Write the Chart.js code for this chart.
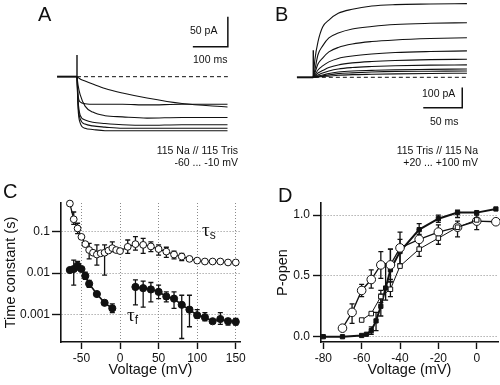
<!DOCTYPE html>
<html><head><meta charset="utf-8">
<script src="https://cdn.jsdelivr.net/npm/chart.js@4.4.1/dist/chart.umd.min.js"></script>
<style>
body{margin:0;background:#fff;}
#wrap{position:relative;width:500px;height:385px;overflow:hidden;background:#fff;font-family:"Liberation Sans",Arial,sans-serif;color:#111;}
canvas{position:absolute;}
.t{position:absolute;white-space:nowrap;line-height:1;}
.lab{position:absolute;font-size:20px;line-height:1;font-family:"Liberation Sans",Arial,sans-serif;}
.tau{position:absolute;font-family:"Liberation Serif","DejaVu Serif",serif;font-size:19px;line-height:1;}
.tau sub{font-family:"Liberation Sans",Arial,sans-serif;font-size:12px;vertical-align:-3px;}
</style></head>
<body><div id="wrap">
<canvas id="cA" width="200" height="150" style="left:40px;top:0px"></canvas>
<canvas id="cB" width="230" height="150" style="left:270px;top:0px"></canvas>
<canvas id="cC" width="250" height="210" style="left:0px;top:175px"></canvas>
<canvas id="cD" width="250" height="210" style="left:250px;top:175px"></canvas>

<div class="lab" style="left:38px;top:4px">A</div>
<div class="lab" style="left:275px;top:4px">B</div>
<div class="lab" style="left:3px;top:181px">C</div>
<div class="lab" style="left:278px;top:185px">D</div>

<div class="t" style="left:190px;top:25px;font-size:10.5px">50 pA</div>
<div class="t" style="left:193px;top:54px;font-size:10.5px">100 ms</div>
<div class="t" style="right:262px;top:145px;font-size:10.5px;text-align:right">115 Na // 115 Tris</div>
<div class="t" style="right:262px;top:157px;font-size:10.5px;text-align:right">-60 ... -10 mV</div>

<div class="t" style="left:422px;top:88px;font-size:10.5px">100 pA</div>
<div class="t" style="left:430px;top:116px;font-size:10.5px">50 ms</div>
<div class="t" style="right:22px;top:145px;font-size:10.5px;text-align:right">115 Tris // 115 Na</div>
<div class="t" style="right:22px;top:157px;font-size:10.5px;text-align:right">+20 ... +100 mV</div>

<div class="tau" style="left:202px;top:220px">τ<sub>s</sub></div>
<div class="tau" style="left:127px;top:305px">τ<sub>f</sub></div>
</div>
<script>
// ---------- Panel A : 115 Na // 115 Tris, -60 ... -10 mV (time ms, current pA)
const aTime   = [0, 3, 9, 23, 45, 80, 130, 200, 300, 430];
const aTrace1 = [0, -1.3, -3.8, -7.2, -12.2, -19.7, -27.2, -35.5, -44.7, -50.5];
const aTrace2 = [0, -30, -42, -45, -46, -46, -46, -47, -46, -46];
const aTrace3 = [0, -14, -30, -49, -59, -65, -67, -69, -68, -68];
const aTrace4 = [0, -39, -64, -72, -76, -78, -80, -81, -80, -80];
const aTrace5 = [0, -45, -70, -79, -82, -84, -86, -86, -86, -86];
const aTrace6 = [0, -52, -77, -86, -88, -90, -90, -90, -90, -90];
const aHoldTime = [-57, 0];
const aSpikeCurrent = [0, 36];
const aBaseTime = [0, 431];
const aBarTime = [431, 431, 331];
const aBarCurrent = [100, 50, 50];

// ---------- Panel B : 115 Tris // 115 Na, +20 ... +100 mV
const bTime   = [0, 2, 6, 12, 20, 32, 50, 75, 105, 150, 197];
const bTrace1 = [0, 85, 175, 248, 282, 315, 335, 351, 358, 361, 363];
const bTrace2 = [0, 36, 111, 155, 194, 218, 238, 250, 260, 266, 269];
const bTrace3 = [0, 21, 66, 95, 125, 147, 164, 176, 184, 191, 195];
const bTrace4 = [0, 11, 36, 56, 76, 93, 105, 115, 122, 127, 130];
const bTrace5 = [0, 6, 21, 33, 48, 61, 71, 78, 83, 87, 89];
const bTrace6 = [0, 4, 11, 21, 31, 41, 48, 53, 57, 60, 61];
const bTrace7 = [0, 1.5, 6, 11, 19, 26, 31, 34, 37, 39, 41];
const bTrace8 = [0, 1.5, 4, 7, 12, 18, 22, 26, 29, 30, 31];
const bTrace9 = [0, 0.5, 1.5, 4, 6, 10, 13, 15, 17, 19, 20];
const bHoldTime = [-21, 0];
const bSpikeCurrent = [0, 133];
const bBaseTime = [2, 197];
const bBarTime = [191, 191, 141];
const bBarCurrent = [-50, -150, -150];

// ---------- Panel C : time constants (s) vs voltage (mV)
const cSlowV   = [-65,-60,-55,-50,-45,-40,-35,-30,-25,-20,-15,-10,-5,0,10,20,30,40,50,60,70,80,90,100,110,120,130,140,150];
const cSlowTau = [0.48,0.2,0.12,0.075,0.05,0.036,0.031,0.028,0.03,0.031,0.035,0.04,0.036,0.034,0.043,0.05,0.048,0.044,0.038,0.033,0.028,0.025,0.022,0.02,0.019,0.019,0.019,0.018,0.018];
const cSlowLo  = [null,0.15,0.09,null,null,0.022,null,0.0155,null,0.0089,null,0.033,null,null,0.03,0.036,0.03,0.033,0.027,0.024,0.022,0.02,null,null,null,null,null,null,null];
const cSlowHi  = [null,0.3,0.16,null,null,0.052,null,0.048,null,0.048,null,0.057,null,null,0.063,0.076,0.069,0.057,0.048,0.042,0.034,0.03,null,null,null,null,null,null,null];
const cFastV1   = [-65,-60,-55,-50,-45,-40,-30,-20,-10];
const cFastTau1 = [0.0118,0.0125,0.015,0.0125,0.0085,0.0055,0.0031,0.0019,0.0014];
const cFastLo1  = [null,0.0051,0.0118,null,0.007,0.0045,null,null,0.0011];
const cFastHi1  = [null,0.0205,0.019,null,0.0105,0.0066,null,null,0.0018];
const cFastV2   = [20,30,40,50,60,70,80,90,100,110,120,130,140,150];
const cFastTau2 = [0.0046,0.0043,0.004,0.0035,0.0027,0.0024,0.0017,0.0013,0.00095,0.00085,0.00068,0.00077,0.00068,0.00066];
const cFastLo2  = [0.0017,0.0015,0.002,0.0024,0.002,0.0014,0.00026,0.0005,0.0008,0.0007,null,0.00057,0.00055,0.00055];
const cFastHi2  = [0.0068,0.0064,0.0059,0.0051,0.0035,0.0035,0.0029,0.0029,0.0013,0.0011,null,0.0011,0.0008,0.0008];
const cXTicks = [-50, 0, 50, 100, 150];
const cYTicks = [0.001, 0.01, 0.1];

// ---------- Panel D : P-open vs voltage (mV)
const dSqV  = [-80,-70,-60,-57.5,-55,-52.5,-50,-47.5,-45,-40,-30,-20,-10,0,10];
const dSqP  = [0,0,0.01,0.02,0.05,0.13,0.25,0.4,0.55,0.7,0.88,0.97,1.02,1.02,1.05];
const dSqLo = [null,null,null,null,0.02,0.05,0.17,0.3,0.45,0.6,0.84,0.94,0.98,null,null];
const dSqHi = [null,null,null,null,0.08,0.2,0.35,0.6,0.72,0.8,0.93,1.0,1.04,null,null];
const dCircV  = [-70,-65,-60,-55,-50,-45,-40,-30,-20,-10,0,10];
const dCircP  = [0.07,0.2,0.38,0.47,0.59,0.59,0.73,0.8,0.86,0.9,0.95,0.945];
const dCircLo = [null,0.11,0.33,0.4,0.48,0.47,0.58,0.72,0.8,0.82,0.88,null];
const dCircHi = [null,0.27,0.43,0.55,0.7,0.72,0.86,0.88,0.92,0.95,1.0,null];
const dOpenV  = [-60,-55,-50,-45,-40,-30,-20,-10,0];
const dOpenP  = [0.137,0.19,0.33,0.39,0.58,0.72,0.81,0.9,0.96];
const dOpenLo = [null,null,0.28,0.33,null,0.66,0.76,null,null];
const dOpenHi = [null,null,0.38,0.45,null,0.78,0.86,null,null];
const dXTicks = [-80, -60, -40, -20, 0];
const dYTicks = [0, 0.5, 1.0];

// ---------- helpers
const pts = (xs, ys) => xs.map((x, i) => ({x: x, y: ys[i]}));
const INK = '#111';

const errorBars = {
  id: 'errorBars',
  beforeDatasetsDraw(chart) {
    const ctx = chart.ctx;
    chart.data.datasets.forEach((ds, i) => {
      if (!ds.errLo) return;
      const meta = chart.getDatasetMeta(i);
      const xs = chart.scales[meta.xAxisID], ys = chart.scales[meta.yAxisID];
      ctx.save();
      ctx.strokeStyle = INK; ctx.lineWidth = ds.errWidth || 1.3;
      ds.data.forEach((p, j) => {
        const lo = ds.errLo[j], hi = ds.errHi[j];
        if (lo == null || hi == null) return;
        const x = xs.getPixelForValue(p.x);
        const y1 = ys.getPixelForValue(lo), y2 = ys.getPixelForValue(hi);
        const c = ds.capHalf || 2.5;
        ctx.beginPath();
        ctx.moveTo(x, y1); ctx.lineTo(x, y2);
        ctx.moveTo(x - c, y1); ctx.lineTo(x + c, y1);
        ctx.moveTo(x - c, y2); ctx.lineTo(x + c, y2);
        ctx.stroke();
      });
      ctx.restore();
    });
  }
};

function traceChart(id, xmin, xmax, ymin, ymax, datasets) {
  return new Chart(document.getElementById(id), {
    type: 'line',
    data: {datasets: datasets},
    options: {
      responsive: false, animation: false, devicePixelRatio: 1,
      layout: {padding: 0, autoPadding: false},
      plugins: {legend: {display: false}, tooltip: {enabled: false}},
      scales: {
        x: {type: 'linear', display: false, min: xmin, max: xmax},
        y: {type: 'linear', display: false, min: ymin, max: ymax}
      },
      elements: {point: {radius: 0}, line: {borderColor: INK, borderWidth: 1.1}}
    }
  });
}
const trace = (xs, ys) => ({data: pts(xs, ys), borderColor: INK, borderWidth: 1.1, pointRadius: 0, cubicInterpolationMode: 'monotone', clip: false});
const seg = (xs, ys, w, dash) => ({data: pts(xs, ys), borderColor: INK, borderWidth: w, pointRadius: 0, tension: 0, borderDash: dash || [], clip: false});

// Panel A
traceChart('cA', -105.7, 465.7, -122.2, 127.8, [
  seg(aBaseTime, [0, 0], 1, [4, 3]),
  seg(aHoldTime, [0, 0], 2),
  seg([0, 0], aSpikeCurrent, 1.4),
  trace(aTime, aTrace1), trace(aTime, aTrace2), trace(aTime, aTrace3),
  trace(aTime, aTrace4), trace(aTime, aTrace5), trace(aTime, aTrace6),
  seg(aBarTime, aBarCurrent, 1.5)
]);

// Panel B
traceChart('cB', -55.5, 239.4, -358.1, 380.8, [
  seg(bBaseTime, [0, 0], 1, [4, 3]),
  seg(bHoldTime, [0, 0], 2),
  seg([0, 0], bSpikeCurrent, 1.4),
  trace(bTime, bTrace1), trace(bTime, bTrace2), trace(bTime, bTrace3),
  trace(bTime, bTrace4), trace(bTime, bTrace5), trace(bTime, bTrace6),
  trace(bTime, bTrace7), trace(bTime, bTrace8), trace(bTime, bTrace9),
  seg(bBarTime, bBarCurrent, 1.5)
]);

const tickFont = {family: '"Liberation Sans", Arial, sans-serif', size: 12};
const titleFont = {family: '"Liberation Sans", Arial, sans-serif', size: 14.5};

function axisCommon(extra) {
  return Object.assign({
    border: {display: true, color: INK, width: 1.6, dash: [1, 2]},
    ticks: {color: INK, font: tickFont, autoSkip: false, maxRotation: 0},
  }, extra);
}

// Panel C
new Chart(document.getElementById('cC'), {
  type: 'line',
  data: {datasets: [
    {data: pts(cFastV1, cFastTau1), errLo: cFastLo1, errHi: cFastHi1, borderColor: INK, borderWidth: 1.6,
     pointRadius: 3.6, pointBackgroundColor: INK, pointBorderColor: INK, pointBorderWidth: 1, tension: 0, clip: false},
    {data: pts(cFastV2, cFastTau2), errLo: cFastLo2, errHi: cFastHi2, borderColor: INK, borderWidth: 1.6,
     pointRadius: 3.6, pointBackgroundColor: INK, pointBorderColor: INK, pointBorderWidth: 1, tension: 0, clip: false},
    {data: pts(cSlowV, cSlowTau), errLo: cSlowLo, errHi: cSlowHi, borderColor: INK, borderWidth: 1.3,
     pointRadius: 3.4, pointBackgroundColor: '#fff', pointBorderColor: INK, pointBorderWidth: 1, tension: 0, clip: false}
  ]},
  options: {
    responsive: false, animation: false, devicePixelRatio: 1,
    layout: {padding: {top: 28, right: 10, left: 0, bottom: 0}, autoPadding: false},
    plugins: {legend: {display: false}, tooltip: {enabled: false}},
    scales: {
      x: axisCommon({
        type: 'linear', min: -76.5, max: 155.5,
        afterBuildTicks: s => { s.ticks = cXTicks.map(v => ({value: v})); },
        afterFit: s => { s.height = 43; },
        grid: {display: true, drawOnChartArea: true, drawTicks: true, color: '#8a8a8a', lineWidth: 1,
               tickLength: 7, tickColor: INK, tickWidth: 1.4, tickBorderDash: []},
        ticks: {color: INK, font: tickFont, padding: 2, autoSkip: false, maxRotation: 0},
        title: {display: true, text: 'Voltage (mV)', color: INK, font: titleFont, padding: {top: 0, bottom: 6}}
      }),
      y: axisCommon({
        type: 'logarithmic', min: 0.000214, max: 0.495,
        afterBuildTicks: s => { s.ticks = cYTicks.map(v => ({value: v})); },
        afterFit: s => { s.width = 61; },
        grid: {display: true, drawOnChartArea: true, drawTicks: true, color: '#8a8a8a', lineWidth: 1,
               tickLength: 9, tickColor: INK, tickWidth: 1.4, tickBorderDash: []},
        ticks: {color: INK, font: tickFont, padding: 2, autoSkip: false, callback: v => String(v)},
        title: {display: true, text: 'Time constant (s)', color: INK, font: titleFont, padding: {top: 2, bottom: 0}}
      })
    }
  },
  plugins: [errorBars]
});

// Panel D
new Chart(document.getElementById('cD'), {
  type: 'line',
  data: {datasets: [
    {data: pts(dOpenV, dOpenP), errLo: dOpenLo, errHi: dOpenHi, borderColor: INK, borderWidth: 1,
     pointStyle: 'rect', pointRadius: 3.2, pointBackgroundColor: '#fff', pointBorderColor: INK, pointBorderWidth: 1, tension: 0, clip: false},
    {data: pts(dCircV, dCircP), errLo: dCircLo, errHi: dCircHi, borderColor: INK, borderWidth: 1.3,
     pointRadius: 4.3, pointBackgroundColor: '#fff', pointBorderColor: INK, pointBorderWidth: 1, tension: 0, clip: false},
    {data: pts(dSqV, dSqP), errLo: dSqLo, errHi: dSqHi, borderColor: INK, borderWidth: 2,
     pointStyle: 'rect', pointRadius: 3, pointBackgroundColor: INK, pointBorderColor: INK, pointBorderWidth: 1, tension: 0, clip: false}
  ]},
  options: {
    responsive: false, animation: false, devicePixelRatio: 1,
    layout: {padding: {top: 28, right: 2, left: 0, bottom: 0}, autoPadding: false},
    plugins: {legend: {display: false}, tooltip: {enabled: false}},
    scales: {
      x: axisCommon({
        type: 'linear', min: -81.2, max: 11.1,
        afterBuildTicks: s => { s.ticks = dXTicks.map(v => ({value: v})); },
        afterFit: s => { s.height = 43; },
        grid: {display: true, drawOnChartArea: false, drawTicks: true, color: '#8a8a8a',
               tickLength: 7, tickColor: INK, tickWidth: 1.4, tickBorderDash: []},
        ticks: {color: INK, font: tickFont, padding: 2, autoSkip: false, maxRotation: 0},
        title: {display: true, text: 'Voltage (mV)', color: INK, font: titleFont, padding: {top: 0, bottom: 6}}
      }),
      y: axisCommon({
        type: 'linear', min: -0.0436, max: 1.099,
        afterBuildTicks: s => { s.ticks = dYTicks.map(v => ({value: v})); },
        afterFit: s => { s.width = 71; },
        grid: {display: true, drawOnChartArea: true, drawTicks: true, color: '#8a8a8a', lineWidth: 1,
               tickLength: 8, tickColor: INK, tickWidth: 1.4, tickBorderDash: []},
        ticks: {color: INK, font: tickFont, padding: 3, autoSkip: false, callback: v => Number(v).toFixed(1)},
        title: {display: true, text: 'P-open', color: INK, font: titleFont, padding: {top: 24, bottom: 0}}
      })
    }
  },
  plugins: [errorBars]
});
</script>
</body></html>
